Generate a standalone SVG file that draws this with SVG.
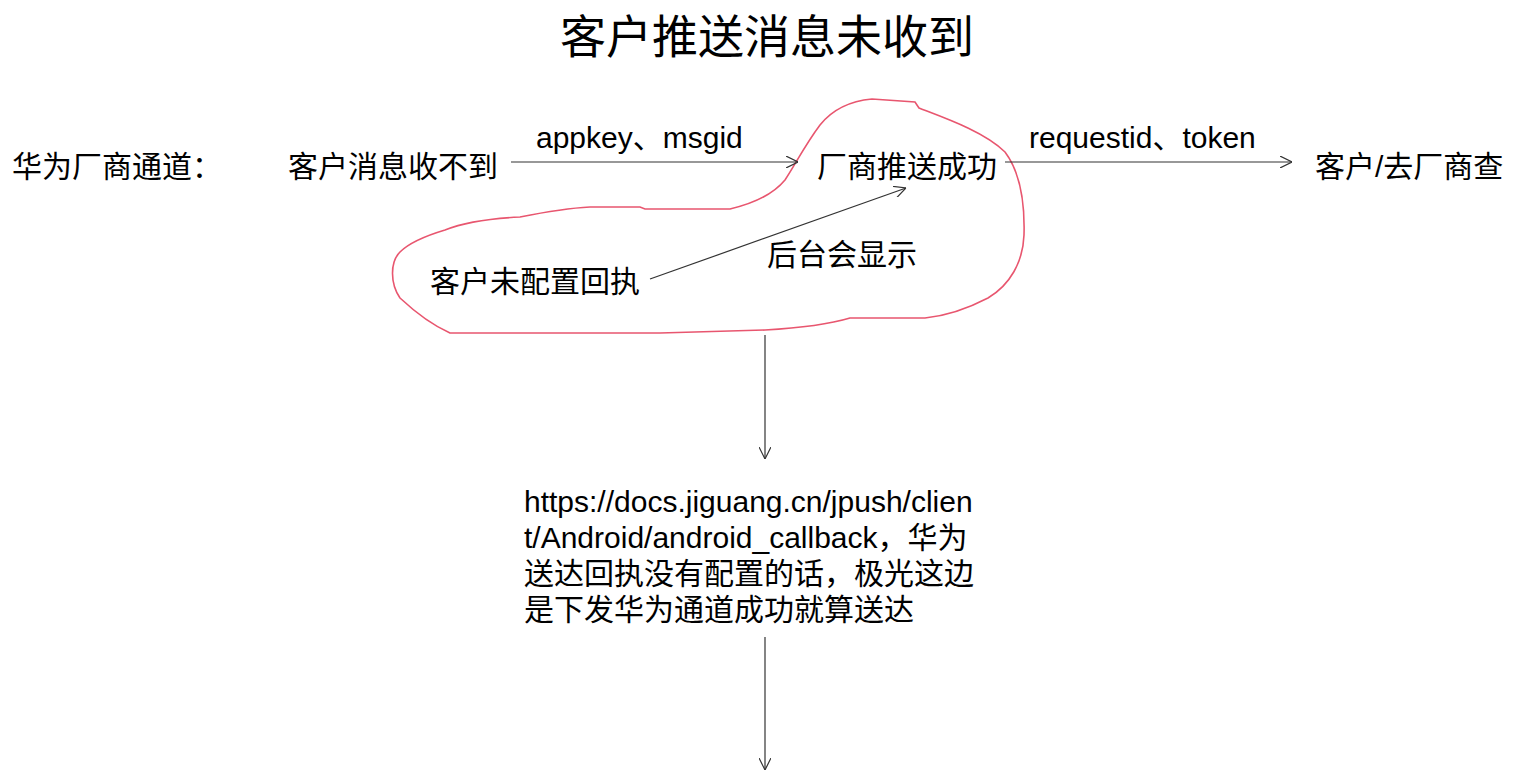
<svg xmlns="http://www.w3.org/2000/svg" width="1539" height="771" viewBox="0 0 1539 771">
<style>
text{font-family:"Liberation Sans","Noto Sans CJK SC",sans-serif;fill:#000;font-size:30px}
.title{font-size:46px}
.conn{stroke:#333;stroke-width:1.2;fill:none}
.blob{stroke:#e8566f;stroke-width:1.6;fill:none}
</style>
<defs>
<marker id="arr" viewBox="0 0 12 12" refX="12" refY="6" markerWidth="12" markerHeight="12" markerUnits="userSpaceOnUse" orient="auto">
<path d="M0,0 L12,6 L0,12" fill="none" stroke="#333" stroke-width="1.2"/>
</marker>
</defs>
<rect width="1539" height="771" fill="#fff"/>
<g id="title"><text class="title" x="767" y="53" text-anchor="middle">客户推送消息未收到</text></g>
<g id="blob"><path class="blob" d="M820,125 C832,110 850,101 872,99 L915,102 L919,108 C945,118 985,132 1005,152 C1020,172 1025,200 1024,235 C1023,262 1010,285 988,298 C965,310 945,316 925,318 L850,318 C830,324 800,328 765,330 L660,333 L450,333 C432,325 415,312 400,298 C390,283 390,262 400,252 C410,242 425,236 445,230 C470,220 500,218 520,217 C545,212 570,208 590,207 L640,207 L645,209 L730,209 C760,202 775,192 785,180 C795,165 805,145 820,125 Z"/></g>
<g id="n-label"><text x="12" y="177">华为厂商通道：</text></g>
<g id="n-notreceived"><text x="288" y="177">客户消息收不到</text></g>
<g id="n-success"><text x="817" y="177">厂商推送成功</text></g>
<g id="n-check"><text x="1315" y="177">客户/去厂商查</text></g>
<g id="n-noconfig"><text x="430" y="292">客户未配置回执</text></g>
<g id="n-note"><text x="524" y="512">https://docs.jiguang.cn/jpush/clien</text><text x="524" y="548">t/Android/android_callback，华为</text><text x="524" y="584">送达回执没有配置的话，极光这边</text><text x="524" y="620">是下发华为通道成功就算送达</text></g>
<g id="connectors">
<line class="conn" x1="511" y1="162" x2="798" y2="162" marker-end="url(#arr)"/>
<line class="conn" x1="1005" y1="162" x2="1292" y2="162" marker-end="url(#arr)"/>
<line class="conn" x1="650" y1="279" x2="906" y2="188" marker-end="url(#arr)"/>
<line class="conn" x1="765" y1="335" x2="765" y2="459" marker-end="url(#arr)"/>
<line class="conn" x1="765" y1="637" x2="765" y2="770" marker-end="url(#arr)"/>
<text x="536" y="148">appkey、msgid</text>
<text x="1029" y="148">requestid、token</text>
<text x="767" y="265">后台会显示</text>
</g>
</svg>
